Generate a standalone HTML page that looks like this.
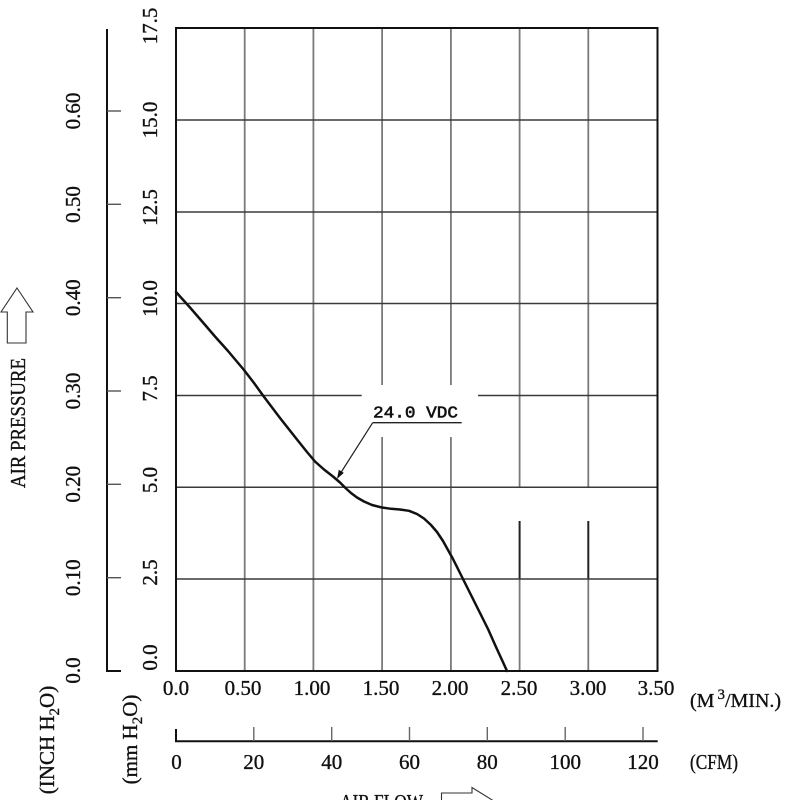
<!DOCTYPE html>
<html>
<head>
<meta charset="utf-8">
<style>
html,body{margin:0;padding:0;background:#fff;}
svg{display:block;}
text{font-family:"Liberation Serif",serif;fill:#111;stroke:#111;stroke-width:0.35;}
</style>
</head>
<body>
<svg width="800" height="800" viewBox="0 0 800 800" xmlns="http://www.w3.org/2000/svg">
<rect width="800" height="800" fill="#fff"/>

<!-- vertical gridlines (gray) -->
<g stroke="#7a7a7a" stroke-width="1.8">
  <line x1="244.7" y1="28" x2="244.7" y2="671"/>
  <line x1="313.4" y1="28" x2="313.4" y2="671"/>
  <line x1="382.1" y1="28" x2="382.1" y2="385"/>
  <line x1="382.1" y1="437" x2="382.1" y2="671"/>
  <line x1="450.9" y1="28" x2="450.9" y2="385"/>
  <line x1="450.9" y1="437" x2="450.9" y2="671"/>
  <line x1="519.6" y1="28" x2="519.6" y2="487"/>
  <line x1="519.6" y1="579" x2="519.6" y2="671"/>
  <line x1="588.3" y1="28" x2="588.3" y2="487"/>
  <line x1="588.3" y1="579" x2="588.3" y2="671"/>
</g>
<g stroke="#222" stroke-width="2">
  <line x1="519.6" y1="521" x2="519.6" y2="579"/>
  <line x1="588.3" y1="521" x2="588.3" y2="579"/>
</g>
<!-- horizontal gridlines (dark) -->
<g stroke="#3a3a3a" stroke-width="1.5">
  <line x1="176" y1="120" x2="657.5" y2="120"/>
  <line x1="176" y1="212" x2="657.5" y2="212"/>
  <line x1="176" y1="303.5" x2="657.5" y2="303.5"/>
  <line x1="176" y1="395.5" x2="361.7" y2="395.5"/>
  <line x1="478" y1="395.5" x2="657.5" y2="395.5"/>
  <line x1="176" y1="487.3" x2="657.5" y2="487.3"/>
  <line x1="176" y1="579" x2="657.5" y2="579"/>
</g>
<!-- plot border -->
<rect x="176" y="28" width="481.5" height="643" fill="none" stroke="#111" stroke-width="2"/>

<!-- curve -->
<polyline fill="none" stroke="#111" stroke-width="2.5" stroke-linejoin="round" stroke-linecap="round"
 points="176,292 190,307.5 203,322.5 215,336.5 228,351 244,370 254,383 263,395.5 280,418 297,439.5 307,452 315,461.5 324,469.5 333,476.5 340,482.5 346,488.5 351,493 357,497.5 364,501.5 372,505 382,507.5 391,508.8 400,509.5 409,510.8 417,514 424,518.5 431,525 437,532 443,541 448,550 453,559 458,569 463,579 471,595 480,613 488,629 496,647 502,660 507,671"/>

<!-- label -->
<text x="373" y="417.5" font-size="17" textLength="85" lengthAdjust="spacingAndGlyphs" style="font-family:'Liberation Mono',monospace;stroke-width:0.6">24.0 VDC</text>
<line x1="372.7" y1="422.7" x2="461.7" y2="422.7" stroke="#222" stroke-width="1.3"/>
<line x1="372.7" y1="422.7" x2="340" y2="474" stroke="#222" stroke-width="1.2"/>
<polygon points="337,479 343.8,472.9 338.8,469.7" fill="#111"/>

<!-- inch axis -->
<line x1="107" y1="29" x2="107" y2="672" stroke="#111" stroke-width="2"/>
<line x1="106" y1="671" x2="121" y2="671" stroke="#111" stroke-width="2"/>
<g stroke="#555" stroke-width="1.4">
  <line x1="107" y1="111" x2="121" y2="111"/>
  <line x1="107" y1="204.3" x2="121" y2="204.3"/>
  <line x1="107" y1="297.7" x2="121" y2="297.7"/>
  <line x1="107" y1="391" x2="121" y2="391"/>
  <line x1="107" y1="484.3" x2="121" y2="484.3"/>
  <line x1="107" y1="577.7" x2="121" y2="577.7"/>
</g>
<g font-size="21" text-anchor="middle">
  <text transform="translate(80,111) rotate(-90)">0.60</text>
  <text transform="translate(80,204.5) rotate(-90)">0.50</text>
  <text transform="translate(80,297.7) rotate(-90)">0.40</text>
  <text transform="translate(80,391) rotate(-90)">0.30</text>
  <text transform="translate(80,484.3) rotate(-90)">0.20</text>
  <text transform="translate(80,577.7) rotate(-90)">0.10</text>
  <text transform="translate(80,670.5) rotate(-90)">0.0</text>
</g>
<!-- mm labels -->
<g font-size="21" text-anchor="middle">
  <text transform="translate(157,26) rotate(-90)">17.5</text>
  <text transform="translate(157,120) rotate(-90)">15.0</text>
  <text transform="translate(157,207.5) rotate(-90)">12.5</text>
  <text transform="translate(157,298.5) rotate(-90)">10.0</text>
  <text transform="translate(157,388.5) rotate(-90)">7.5</text>
  <text transform="translate(157,480) rotate(-90)">5.0</text>
  <text transform="translate(157,572.5) rotate(-90)">2.5</text>
  <text transform="translate(157,657.5) rotate(-90)">0.0</text>
</g>

<!-- AIR PRESSURE -->
<text transform="translate(25,423) rotate(-90)" font-size="21" text-anchor="middle" textLength="130" lengthAdjust="spacingAndGlyphs">AIR  PRESSURE</text>
<polygon points="17,288 33,312 26,312 26,343 7.3,343 7.3,312 1,312" fill="#fff" stroke="#333" stroke-width="1.1"/>

<!-- units left -->
<text transform="translate(54,740) rotate(-90)" font-size="21" text-anchor="middle">(INCH  H<tspan font-size="15" dy="5">2</tspan><tspan dy="-5">O)</tspan></text>
<text transform="translate(137,739.5) rotate(-90)" font-size="21" text-anchor="middle">(mm  H<tspan font-size="15" dy="5">2</tspan><tspan dy="-5">O)</tspan></text>

<!-- x axis m3/min labels -->
<g font-size="21" text-anchor="middle">
  <text x="176" y="695">0.0</text>
  <text x="243" y="695">0.50</text>
  <text x="312" y="695">1.00</text>
  <text x="381" y="695">1.50</text>
  <text x="450" y="695">2.00</text>
  <text x="519" y="695">2.50</text>
  <text x="588" y="695">3.00</text>
  <text x="656" y="695">3.50</text>
</g>
<text x="690" y="707" font-size="20">(M<tspan font-size="15" dy="-8" dx="3">3</tspan><tspan dy="8">/MIN.)</tspan></text>

<!-- CFM axis -->
<line x1="175" y1="741.3" x2="657.7" y2="741.3" stroke="#111" stroke-width="2"/>
<line x1="176" y1="729" x2="176" y2="742" stroke="#111" stroke-width="2"/>
<g stroke="#666" stroke-width="1.4">
  <line x1="253.8" y1="727" x2="253.8" y2="741"/>
  <line x1="331.7" y1="727" x2="331.7" y2="741"/>
  <line x1="409.5" y1="727" x2="409.5" y2="741"/>
  <line x1="487.3" y1="727" x2="487.3" y2="741"/>
  <line x1="565.2" y1="727" x2="565.2" y2="741"/>
  <line x1="643" y1="727" x2="643" y2="741"/>
</g>
<g font-size="21" text-anchor="middle">
  <text x="176.5" y="769">0</text>
  <text x="253.8" y="769">20</text>
  <text x="331.7" y="769">40</text>
  <text x="409.5" y="769">60</text>
  <text x="487.3" y="769">80</text>
  <text x="565.2" y="769">100</text>
  <text x="643" y="769">120</text>
</g>
<text x="690" y="769" font-size="21" textLength="48" lengthAdjust="spacingAndGlyphs">(CFM)</text>

<!-- AIR FLOW -->
<text x="340" y="809" font-size="21" textLength="83" lengthAdjust="spacingAndGlyphs">AIR  FLOW</text>
<polygon points="441.5,793 472,793 472,787.5 497,803 472,819 472,813 441.5,813" fill="#fff" stroke="#333" stroke-width="1.1"/>
</svg>
</body>
</html>
